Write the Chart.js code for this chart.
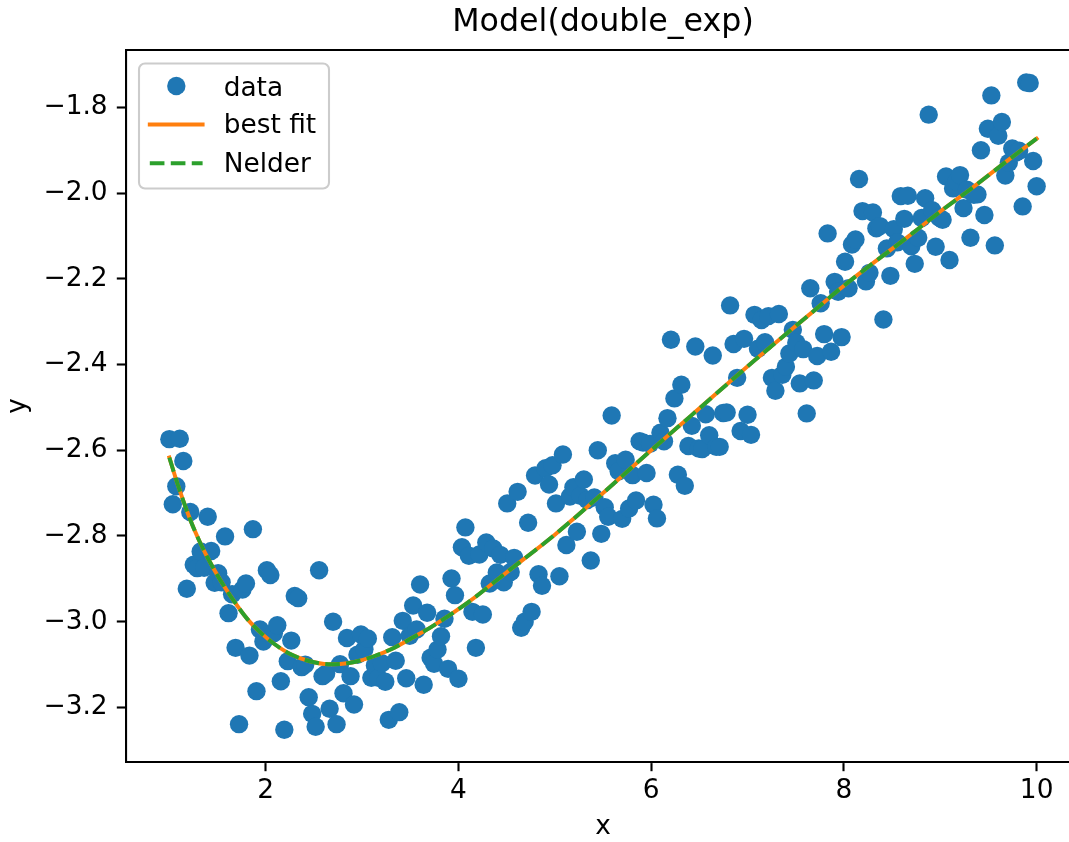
<!DOCTYPE html>
<html>
<head>
<meta charset="utf-8">
<script src="https://cdn.jsdelivr.net/npm/chart.js@4.4.1/dist/chart.umd.min.js"></script>
<style>
html,body{margin:0;padding:0;background:#fff;overflow:hidden;width:1069px;height:842px}
#wrap{position:absolute;left:0;top:0;width:1082px;height:842px}
canvas{display:block}
</style>
</head>
<body>
<div id="wrap"><canvas id="c" width="1082" height="842"></canvas></div>
<script>
// ---- data ----
const xValues = [
1.000,1.036,1.072,1.108,1.145,1.181,1.217,1.253,1.289,1.325,
1.361,1.398,1.434,1.470,1.506,1.542,1.578,1.614,1.651,1.687,
1.723,1.759,1.795,1.831,1.867,1.904,1.940,1.976,2.012,2.048,
2.084,2.120,2.157,2.193,2.229,2.265,2.301,2.337,2.373,2.410,
2.446,2.482,2.518,2.554,2.590,2.627,2.663,2.699,2.735,2.771,
2.807,2.843,2.880,2.916,2.952,2.988,3.024,3.060,3.096,3.133,
3.169,3.205,3.241,3.277,3.313,3.349,3.386,3.422,3.458,3.494,
3.530,3.566,3.602,3.639,3.675,3.711,3.747,3.783,3.819,3.855,
3.892,3.928,3.964,
4.000,4.036,4.072,4.108,4.145,4.181,4.217,4.253,4.289,4.325,
4.361,4.398,4.434,4.470,4.506,4.542,4.578,4.614,4.651,4.687,
4.723,4.759,4.795,4.831,4.867,4.904,4.940,4.976,5.012,5.048,
5.084,5.120,5.157,5.193,5.229,5.265,5.301,5.337,5.373,5.410,
5.446,5.482,5.518,5.554,5.590,5.627,5.663,5.699,5.735,5.771,
5.807,5.843,5.880,5.916,5.952,5.988,6.024,6.060,6.096,6.133,
6.169,6.205,6.241,6.277,6.313,6.349,6.386,6.422,6.458,6.494,
6.530,6.566,6.602,6.639,6.675,6.711,6.747,6.783,6.819,6.855,
6.892,6.928,6.964,
7.000,7.036,7.072,7.108,7.145,7.181,7.217,7.253,7.289,7.325,
7.361,7.398,7.434,7.470,7.506,7.542,7.578,7.614,7.651,7.687,
7.723,7.759,7.795,7.831,7.867,7.904,7.940,7.976,8.012,8.048,
8.084,8.120,8.157,8.193,8.229,8.265,8.301,8.337,8.373,8.410,
8.446,8.482,8.518,8.554,8.590,8.627,8.663,8.699,8.735,8.771,
8.807,8.843,8.880,8.916,8.952,8.988,9.024,9.060,9.096,9.133,
9.169,9.205,9.241,9.277,9.313,9.349,9.386,9.422,9.458,9.494,
9.530,9.566,9.602,9.639,9.675,9.711,9.747,9.783,9.819,9.855,
9.892,9.928,9.964,10.000
];
const yValues = [
-2.574,-2.726,-2.684,-2.573,-2.625,-2.923,-2.744,-2.867,-2.875,-2.836,
-2.874,-2.755,-2.835,-2.909,-2.887,-2.908,-2.801,-2.980,-2.936,-3.061,
-3.239,-2.925,-2.911,-3.079,-2.784,-3.162,-3.018,-3.046,-2.880,-2.891,
-3.027,-3.008,-3.139,-3.252,-3.092,-3.044,-2.940,-2.945,-3.106,-3.100,
-3.176,-3.215,-3.245,-2.880,-3.127,-3.121,-3.203,-3.000,-3.239,-3.099,
-3.167,-3.038,-3.127,-3.193,-3.077,-3.030,-3.064,-3.039,-3.131,-3.102,
-3.131,-3.097,-3.140,-3.229,-3.036,-3.091,-3.211,-2.998,-3.132,-3.033,
-2.962,-3.018,-2.913,-3.147,-2.979,-3.084,-3.098,-3.065,-3.034,-2.993,
-3.110,-2.899,-2.938,
-3.133,-2.826,-2.780,-2.846,-2.977,-3.061,-2.843,
-2.983,-2.815,-2.911,-2.829,-2.885,-2.844,-2.908,-2.724,-2.884,-2.851,
-2.697,-3.014,-3.000,-2.769,-2.977,-2.659,-2.889,-2.916,-2.642,-2.680,
-2.635,-2.724,-2.894,-2.610,-2.821,-2.708,-2.686,-2.790,-2.706,-2.668,
-2.716,-2.857,-2.710,-2.600,-2.795,-2.733,-2.755,-2.519,-2.630,-2.649,
-2.760,-2.622,-2.736,-2.658,-2.717,-2.579,-2.582,-2.653,-2.585,-2.727,
-2.759,-2.559,-2.579,-2.525,-2.342,-2.479,-2.657,-2.447,-2.683,-2.590,
-2.543,-2.358,-2.596,-2.597,-2.516,-2.565,-2.379,-2.592,-2.592,-2.513,
-2.512,-2.262,-2.352,-2.431,-2.555,-2.340,-2.517,-2.564,-2.284,-2.363,
-2.296,-2.348,-2.287,-2.431,-2.461,-2.282,-2.424,-2.405,-2.374,-2.319,
-2.349,-2.444,-2.364,-2.514,-2.222,-2.437,-2.380,-2.257,-2.329,-2.094,
-2.370,-2.207,-2.230,-2.336,-2.160,-2.222,-2.120,-2.108,-1.967,-2.042,
-2.206,-2.186,-2.045,-2.082,-2.077,-2.295,-2.129,-2.193,-2.084,-2.115,
-2.007,-2.060,-2.006,-2.124,-2.165,-2.104,-2.058,-2.012,-1.817,-2.040,
-2.125,-2.057,-2.062,-1.961,-2.156,-1.989,-1.973,-1.958,-2.035,-1.992,
-2.104,-2.004,-2.003,-1.900,-2.051,-1.850,-1.772,-2.122,-1.866,-1.834,
-1.959,-1.929,-1.896,-1.906,-1.901,-2.031,-1.742,-1.743,-1.925,-1.984
];
const fitX = [1.00,1.09,1.22,1.31,1.40,1.54,1.68,1.81,1.95,2.09,2.26,2.44,2.65,2.80,2.92,3.13,3.34,3.54,3.72,4.10,4.51,5.00,5.48,6.00,6.42,7.08,7.66,8.00,8.67,9.00,9.33,9.67,10.00];
const fitBest = [-2.617,-2.682,-2.764,-2.811,-2.852,-2.907,-2.955,-2.994,-3.026,-3.052,-3.076,-3.091,-3.099,-3.098,-3.094,-3.080,-3.060,-3.035,-3.012,-2.955,-2.883,-2.797,-2.704,-2.600,-2.518,-2.389,-2.280,-2.216,-2.101,-2.043,-1.988,-1.929,-1.873];
const fitNelder = [-2.617,-2.682,-2.764,-2.811,-2.852,-2.907,-2.955,-2.994,-3.026,-3.052,-3.076,-3.091,-3.099,-3.098,-3.094,-3.080,-3.060,-3.035,-3.012,-2.955,-2.883,-2.797,-2.704,-2.600,-2.518,-2.389,-2.280,-2.216,-2.101,-2.043,-1.988,-1.929,-1.873];
const seriesNames = ['data', 'best fit', 'Nelder'];
const xTicks = [2, 4, 6, 8, 10];
const yTicks = [-3.2, -3.0, -2.8, -2.6, -2.4, -2.2, -2.0, -1.8];
const titleText = 'Model(double_exp)';
const xLabel = 'x';
const yLabel = 'y';

// ---- styling ----
const FAM = '"DejaVu Sans", "Liberation Sans", sans-serif';
const FS = 26.4;
const C_DATA = '#1f77b4', C_BEST = '#ff7f0e', C_NELDER = '#2ca02c';
const LW = 3.96;
const DASH = [14.65, 6.33];

const fmtY = v => (v < 0 ? '\u2212' : '') + Math.abs(v).toFixed(1);
const fmtX = v => String(v);

const decor = {
  id: 'decor',
  afterDraw(chart) {
    const {ctx, chartArea: a} = chart;
    ctx.save();
    // top spine
    ctx.strokeStyle = '#000';
    ctx.lineWidth = 2.1;
    ctx.setLineDash([]);
    ctx.beginPath();
    ctx.moveTo(a.left - 1, a.top);
    ctx.lineTo(a.right + 1, a.top);
    ctx.stroke();

    // legend box (matplotlib style, upper left)
    const bx = 139, by = 63.5, bw = 190, bh = 125, r = 6;
    ctx.beginPath();
    ctx.roundRect(bx, by, bw, bh, r);
    ctx.fillStyle = 'rgba(255,255,255,0.8)';
    ctx.fill();
    ctx.strokeStyle = '#cccccc';
    ctx.lineWidth = 2.1;
    ctx.stroke();

    const ds = chart.data.datasets;
    ctx.fillStyle = C_DATA;
    ctx.beginPath();
    ctx.arc(176.3, 86, 9.2, 0, Math.PI * 2);
    ctx.fill();
    ctx.strokeStyle = C_BEST;
    ctx.lineWidth = LW;
    ctx.lineCap = 'square';
    ctx.beginPath();
    ctx.moveTo(149.8, 124.5);
    ctx.lineTo(202.6, 124.5);
    ctx.stroke();
    ctx.strokeStyle = C_NELDER;
    ctx.lineCap = 'butt';
    ctx.setLineDash(DASH);
    ctx.beginPath();
    ctx.moveTo(149.8, 163.3);
    ctx.lineTo(202.6, 163.3);
    ctx.stroke();
    ctx.setLineDash([]);

    ctx.fillStyle = '#000';
    ctx.font = FS + 'px ' + FAM;
    ctx.textAlign = 'left';
    ctx.textBaseline = 'alphabetic';
    ctx.fillText(ds[0].label, 223.7, 95.7);
    ctx.fillText(ds[1].label, 223.7, 133.4);
    ctx.fillText(ds[2].label, 223.7, 171.6);
    ctx.restore();
  }
};

const dataPts = xValues.map((x, i) => ({x: x, y: yValues[i]}));
const bestPts = fitX.map((x, i) => ({x: x, y: fitBest[i]}));
const nelderPts = fitX.map((x, i) => ({x: x, y: fitNelder[i]}));

new Chart(document.getElementById('c').getContext('2d'), {
  type: 'scatter',
  data: {
    datasets: [
      {label: seriesNames[0], data: dataPts, backgroundColor: C_DATA, borderWidth: 0,
       pointRadius: 9.2, pointHoverRadius: 9.2, order: 3},
      {label: seriesNames[1], type: 'line', data: bestPts, borderColor: C_BEST, borderWidth: LW,
       pointRadius: 0, fill: false, cubicInterpolationMode: 'monotone', borderCapStyle: 'square', order: 2},
      {label: seriesNames[2], type: 'line', data: nelderPts, borderColor: C_NELDER, borderWidth: LW,
       borderDash: DASH, pointRadius: 0, fill: false, cubicInterpolationMode: 'monotone', order: 1}
    ]
  },
  options: {
    responsive: false,
    maintainAspectRatio: false,
    animation: false,
    devicePixelRatio: 1,
    events: [],
    layout: {autoPadding: false, padding: {left: 0, right: 2, top: 0, bottom: 0}},
    plugins: {
      legend: {display: false},
      tooltip: {enabled: false},
      title: {
        display: true, text: titleText, fullSize: false, color: '#000',
        font: {family: FAM, size: 31.7, weight: 'normal', lineHeight: 1.2},
        padding: {top: 4.2, bottom: 7.8}
      }
    },
    scales: {
      x: {
        type: 'linear', position: 'bottom', min: 0.55, max: 10.45,
        afterFit(s) { s.height = 80; s.paddingLeft = 0; s.paddingRight = 0; },
        afterBuildTicks(s) { s.ticks = xTicks.map(v => ({value: v})); },
        grid: {display: true, drawOnChartArea: false, drawTicks: true, tickLength: 9.2, tickWidth: 2.1, tickColor: '#000'},
        border: {display: true, color: '#000', width: 2.1},
        ticks: {color: '#000', font: {family: FAM, size: FS}, padding: 4, maxRotation: 0, autoSkip: false,
                callback: v => fmtX(v)},
        title: {display: true, text: xLabel, color: '#000', font: {family: FAM, size: FS, lineHeight: 1},
                padding: {top: 0, bottom: 1.9}}
      },
      y: {
        type: 'linear', position: 'left', min: -3.3273, max: -1.6662,
        afterFit(s) { s.width = 126; s.paddingTop = 0; s.paddingBottom = 0; },
        afterBuildTicks(s) { s.ticks = yTicks.map(v => ({value: v})); },
        grid: {display: true, drawOnChartArea: false, drawTicks: true, tickLength: 9.2, tickWidth: 2.1, tickColor: '#000'},
        border: {display: true, color: '#000', width: 2.1},
        ticks: {color: '#000', font: {family: FAM, size: FS}, padding: 9.2, autoSkip: false,
                callback: v => fmtY(v)},
        title: {display: true, text: yLabel, color: '#000', font: {family: FAM, size: FS, lineHeight: 1},
                padding: {top: 4.7, bottom: 0}}
      }
    }
  },
  plugins: [decor]
});
</script>
</body>
</html>
